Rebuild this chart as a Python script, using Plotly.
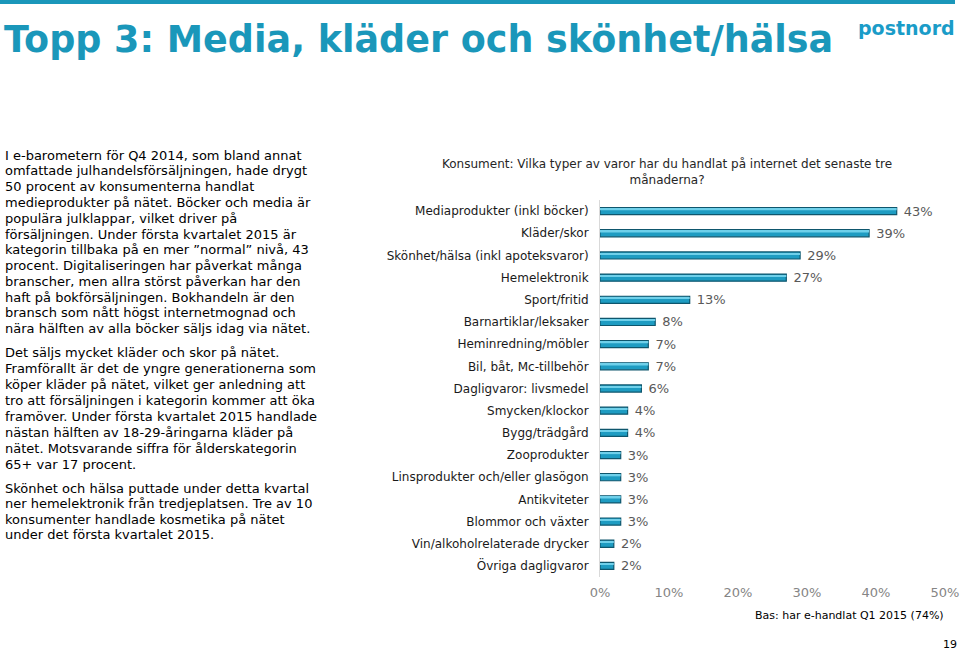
import plotly.graph_objects as go

categories = [
    "Mediaprodukter (inkl böcker)",
    "Kläder/skor",
    "Skönhet/hälsa (inkl apoteksvaror)",
    "Hemelektronik",
    "Sport/fritid",
    "Barnartiklar/leksaker",
    "Heminredning/möbler",
    "Bil, båt, Mc-tillbehör",
    "Dagligvaror: livsmedel",
    "Smycken/klockor",
    "Bygg/trädgård",
    "Zooprodukter",
    "Linsprodukter och/eller glasögon",
    "Antikviteter",
    "Blommor och växter",
    "Vin/alkoholrelaterade drycker",
    "Övriga dagligvaror",
]
values = [43, 39, 29, 27, 13, 8, 7, 7, 6, 4, 4, 3, 3, 3, 3, 2, 2]
x_ticks = [0, 10, 20, 30, 40, 50]
x_tick_labels = ["0%", "10%", "20%", "30%", "40%", "50%"]

title_text = "Topp 3: Media, kläder och skönhet/hälsa"
chart_title = "Konsument: Vilka typer av varor har du handlat på internet det senaste tre<br>månaderna?"
base_note = "Bas: har e-handlat Q1 2015 (74%)"
page_no = "19"

paragraphs = [
    [
        "I e-barometern för Q4 2014, som bland annat",
        "omfattade julhandelsförsäljningen, hade drygt",
        "50 procent av konsumenterna handlat",
        "medieprodukter på nätet. Böcker och media är",
        "populära julklappar, vilket driver på",
        "försäljningen. Under första kvartalet 2015 är",
        "kategorin tillbaka på en mer ”normal” nivå, 43",
        "procent. Digitaliseringen har påverkat många",
        "branscher, men allra störst påverkan har den",
        "haft på bokförsäljningen. Bokhandeln är den",
        "bransch som nått högst internetmognad och",
        "nära hälften av alla böcker säljs idag via nätet.",
    ],
    [
        "Det säljs mycket kläder och skor på nätet.",
        "Framförallt är det de yngre generationerna som",
        "köper kläder på nätet, vilket ger anledning att",
        "tro att försäljningen i kategorin kommer att öka",
        "framöver. Under första kvartalet 2015 handlade",
        "nästan hälften av 18-29-åringarna kläder på",
        "nätet. Motsvarande siffra för ålderskategorin",
        "65+ var 17 procent.",
    ],
    [
        "Skönhet och hälsa puttade under detta kvartal",
        "ner hemelektronik från tredjeplatsen. Tre av 10",
        "konsumenter handlade kosmetika på nätet",
        "under det första kvartalet 2015.",
    ],
]

W, H = 960, 651
FONT = "DejaVu Sans"
TEAL = "#1a97ba"

def py(y):
    return 1 - y / H

def px(x):
    return x / W

fig = go.Figure()
# main bar body
fig.add_trace(go.Bar(
    y=categories, x=values, orientation="h",
    width=0.32,
    marker=dict(color="#1e9cc2", line=dict(color="#0e566d", width=1.2)),
    text=[f"{v}%" for v in values],
    texttemplate=" %{text}",
    textposition="outside",
    constraintext="none",
    textfont=dict(family=FONT, size=13, color="#595959"),
    cliponaxis=False,
    showlegend=False,
    hoverinfo="skip",
))
# highlight stripe (3D look)
fig.add_trace(go.Bar(
    y=categories, x=values, orientation="h",
    width=0.07, offset=-0.11,
    marker=dict(color="#6fd0ea", line=dict(width=0)),
    showlegend=False,
    hoverinfo="skip",
))

annotations = []
starts = [155, 352, 488]
steps = [15.8, 16.0, 15.5]
for para, y0, st in zip(paragraphs, starts, steps):
    for i, line in enumerate(para):
        annotations.append(dict(
            text=line, x=px(3), y=py(y0 + i * st), xref="paper", yref="paper",
            xanchor="left", yanchor="middle", showarrow=False,
            font=dict(family=FONT, size=13, color="#000000"),
        ))

annotations.append(dict(
    text=title_text, x=px(2), y=py(40), xref="paper", yref="paper",
    xanchor="left", yanchor="middle", showarrow=False,
    font=dict(family=FONT, size=36.5, color=TEAL, weight="bold"),
))
annotations.append(dict(
    text="postnord", x=px(957), y=py(28), xref="paper", yref="paper",
    xanchor="right", yanchor="middle", showarrow=False,
    font=dict(family=FONT, size=19, color="#1a9cc8", weight="bold"),
))
annotations.append(dict(
    text=chart_title, x=px(667), y=py(172), xref="paper", yref="paper",
    xanchor="center", yanchor="middle", showarrow=False,
    font=dict(family=FONT, size=12, color="#262626"),
))
annotations.append(dict(
    text=base_note, x=px(946), y=py(615), xref="paper", yref="paper",
    xanchor="right", yanchor="middle", showarrow=False,
    font=dict(family=FONT, size=11, color="#000000"),
))
annotations.append(dict(
    text=page_no, x=px(959), y=py(644), xref="paper", yref="paper",
    xanchor="right", yanchor="middle", showarrow=False,
    font=dict(family=FONT, size=11, color="#000000"),
))

fig.update_layout(
    width=W, height=H,
    margin=dict(l=0, r=0, t=0, b=0, autoexpand=False),
    paper_bgcolor="white", plot_bgcolor="white",
    annotations=annotations,
    barmode="overlay",
    shapes=[dict(type="line", xref="paper", yref="paper",
                 x0=0, x1=px(955), y0=py(2), y1=py(2),
                 line=dict(color=TEAL, width=4))],
    xaxis=dict(
        domain=[px(600), px(945)], range=[0, 50],
        tickvals=x_ticks, ticktext=x_tick_labels,
        showgrid=False, zeroline=False, showline=False,
        tickfont=dict(family=FONT, size=13, color="#858585"),
        ticks="", ticklabelstandoff=6, automargin=False,
    ),
    yaxis=dict(
        domain=[py(577), py(200)],
        categoryorder="array", categoryarray=categories,
        autorange="reversed",
        showgrid=False, zeroline=False,
        showline=True, linecolor="#d9d9d9", linewidth=1,
        ticks="", ticklabelstandoff=8, automargin=False,
        tickfont=dict(family=FONT, size=12, color="#1a1a1a"),
    ),
)

fig.write_html(
    "out.html",
    config={"displayModeBar": False},
    post_script="document.body.style.margin='0';document.body.style.overflow='hidden';",
)
